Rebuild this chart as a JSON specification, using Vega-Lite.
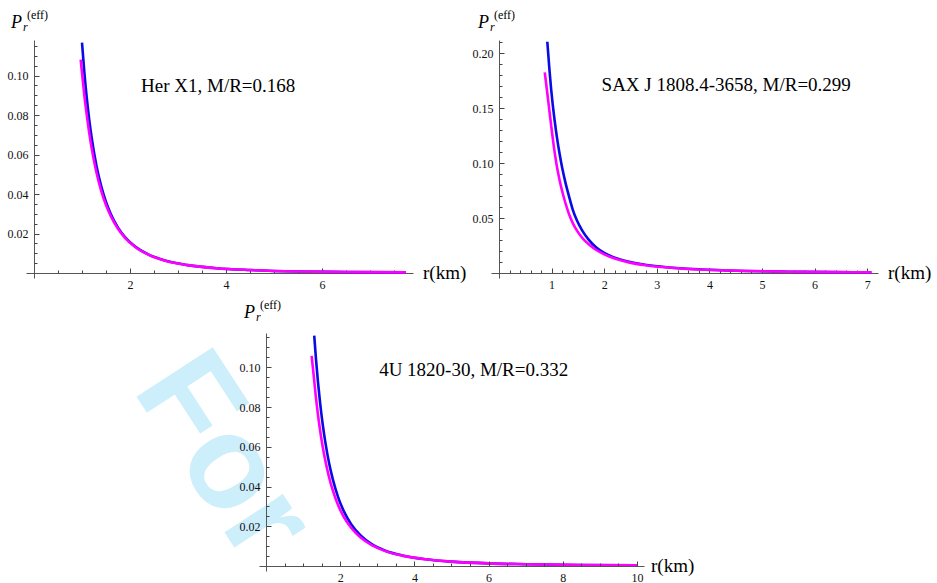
{
  "$schema": "https://vega.github.io/schema/vega-lite/v6.json",
  "background": "white",
  "padding": {"left": 7, "top": 9, "right": 0, "bottom": 0},
  "autosize": {"type": "pad"},
  "config": {
    "view": {"stroke": null},
    "axis": {
      "grid": false,
      "domainColor": "#555555",
      "domainWidth": 1,
      "tickColor": "#444444",
      "tickWidth": 1,
      "labelFont": "Liberation Serif",
      "labelFontSize": 12,
      "labelColor": "#111111",
      "labelOverlap": false,
      "labelFlush": false,
      "labelBound": false,
      "labelPadding": 11
    },
    "text": {"font": "Liberation Serif", "fill": "#000000"}
  },
  "bounds": "flush",
  "spacing": 293,
  "vconcat": [
    {
      "bounds": "flush",
      "spacing": 78,
      "hconcat": [
        {
          "width": 387,
          "height": 238,
          "resolve": {"axis": {"x": "independent", "y": "independent"}},
          "data": {"values": [
            {"r": 1.00, "P": 0.1167, "curve": "a"}, {"r": 1.05, "P": 0.1013, "curve": "a"},
            {"r": 1.10, "P": 0.0885, "curve": "a"}, {"r": 1.15, "P": 0.0778, "curve": "a"},
            {"r": 1.20, "P": 0.0688, "curve": "a"}, {"r": 1.30, "P": 0.0545, "curve": "a"},
            {"r": 1.40, "P": 0.0440, "curve": "a"}, {"r": 1.50, "P": 0.0360, "curve": "a"},
            {"r": 1.60, "P": 0.0299, "curve": "a"}, {"r": 1.75, "P": 0.0230, "curve": "a"},
            {"r": 1.90, "P": 0.0181, "curve": "a"}, {"r": 2.10, "P": 0.0136, "curve": "a"},
            {"r": 2.40, "P": 0.0092, "curve": "a"}, {"r": 2.75, "P": 0.0062, "curve": "a"},
            {"r": 3.20, "P": 0.0040, "curve": "a"}, {"r": 3.80, "P": 0.0024, "curve": "a"},
            {"r": 4.50, "P": 0.0015, "curve": "a"}, {"r": 5.50, "P": 0.0008, "curve": "a"},
            {"r": 6.50, "P": 0.0005, "curve": "a"}, {"r": 7.75, "P": 0.0003, "curve": "a"},
            {"r": 0.973, "P": 0.1080, "curve": "b"}, {"r": 1.00, "P": 0.1013, "curve": "b"},
            {"r": 1.05, "P": 0.0897, "curve": "b"}, {"r": 1.10, "P": 0.0798, "curve": "b"},
            {"r": 1.15, "P": 0.0710, "curve": "b"}, {"r": 1.20, "P": 0.0634, "curve": "b"},
            {"r": 1.30, "P": 0.0510, "curve": "b"}, {"r": 1.40, "P": 0.0416, "curve": "b"},
            {"r": 1.50, "P": 0.0344, "curve": "b"}, {"r": 1.60, "P": 0.0288, "curve": "b"},
            {"r": 1.75, "P": 0.0224, "curve": "b"}, {"r": 1.90, "P": 0.0177, "curve": "b"},
            {"r": 2.10, "P": 0.0133, "curve": "b"}, {"r": 2.40, "P": 0.0091, "curve": "b"},
            {"r": 2.75, "P": 0.0061, "curve": "b"}, {"r": 3.20, "P": 0.0040, "curve": "b"},
            {"r": 3.80, "P": 0.0024, "curve": "b"}, {"r": 4.50, "P": 0.0015, "curve": "b"},
            {"r": 5.50, "P": 0.0008, "curve": "b"}, {"r": 6.50, "P": 0.0005, "curve": "b"},
            {"r": 7.75, "P": 0.0003, "curve": "b"}
          ]},
          "layer": [
            {
              "transform": [{"filter": "datum.curve === 'a'"}],
              "mark": {"type": "line", "stroke": "#0a0ae6", "strokeWidth": 2.6, "interpolate": "monotone"},
              "encoding": {
                "x": {"field": "r", "type": "quantitative",
                  "scale": {"domain": [-0.1667, 7.896], "nice": false, "zero": false},
                  "axis": {"title": null, "orient": "bottom", "offset": -5, "values": [2, 4, 6], "tickSize": -5, "format": "d", "labelFont": "Liberation Serif"}},
                "y": {"field": "P", "type": "quantitative",
                  "scale": {"domain": [-0.00253, 0.1180], "nice": false, "zero": false},
                  "axis": {"title": null, "orient": "left", "offset": -8, "values": [0.02, 0.04, 0.06, 0.08, 0.1], "tickSize": -5, "format": ".2f", "labelFont": "Liberation Serif"}}
              }
            },
            {
              "transform": [{"filter": "datum.curve === 'b'"}],
              "mark": {"type": "line", "stroke": "#ff00ff", "strokeWidth": 2.6, "interpolate": "monotone"},
              "encoding": {
                "x": {"field": "r", "type": "quantitative",
                  "axis": {"title": null, "orient": "bottom", "offset": -5, "domain": false, "labels": false, "tickSize": -3,
                    "values": [0.5, 1, 1.5, 2.5, 3, 3.5, 4.5, 5, 5.5, 6.5, 7, 7.5]}},
                "y": {"field": "P", "type": "quantitative",
                  "axis": {"title": null, "orient": "left", "offset": -8, "domain": false, "labels": false, "tickSize": -3,
                    "values": [0.005, 0.01, 0.015, 0.025, 0.03, 0.035, 0.045, 0.05, 0.055, 0.065, 0.07, 0.075, 0.085, 0.09, 0.095, 0.105, 0.11, 0.115]}}
              }
            },
            {
              "data": {"values": [{"label": "Her X1, M/R=0.168"}]},
              "mark": {"type": "text", "fontSize": 19, "align": "left", "baseline": "alphabetic"},
              "encoding": {"x": {"datum": 2.23, "axis": null}, "y": {"datum": 0.0919, "axis": null}, "text": {"field": "label"}}
            },
            {
              "data": {"values": [{"label": "r(km)"}]},
              "mark": {"type": "text", "fontSize": 19, "align": "left", "baseline": "middle", "dx": 10},
              "encoding": {"x": {"datum": 7.896, "axis": null}, "y": {"datum": 0, "axis": null}, "text": {"field": "label"}}
            },
            {
              "data": {"values": [{"label": "P"}]},
              "mark": {"type": "text", "fontSize": 18, "fontStyle": "italic", "align": "left", "baseline": "alphabetic", "dx": -23, "dy": -12},
              "encoding": {"x": {"datum": 0, "axis": null}, "y": {"datum": 0.1180, "axis": null}, "text": {"field": "label"}}
            },
            {
              "data": {"values": [{"label": "r"}]},
              "mark": {"type": "text", "fontSize": 12, "fontStyle": "italic", "align": "left", "baseline": "alphabetic", "dx": -11, "dy": -9},
              "encoding": {"x": {"datum": 0, "axis": null}, "y": {"datum": 0.1180, "axis": null}, "text": {"field": "label"}}
            },
            {
              "data": {"values": [{"label": "(eff)"}]},
              "mark": {"type": "text", "fontSize": 12, "align": "left", "baseline": "alphabetic", "dx": -7, "dy": -21},
              "encoding": {"x": {"datum": 0, "axis": null}, "y": {"datum": 0.1180, "axis": null}, "text": {"field": "label"}}
            }
          ]
        },
        {
          "width": 387,
          "height": 238,
          "resolve": {"axis": {"x": "independent", "y": "independent"}},
          "data": {"values": [
            {"r": 0.918, "P": 0.2106, "curve": "a"}, {"r": 0.94, "P": 0.1970, "curve": "a"},
            {"r": 0.96, "P": 0.1845, "curve": "a"}, {"r": 0.99, "P": 0.1680, "curve": "a"},
            {"r": 1.02, "P": 0.1540, "curve": "a"}, {"r": 1.06, "P": 0.1380, "curve": "a"},
            {"r": 1.10, "P": 0.1240, "curve": "a"}, {"r": 1.15, "P": 0.1090, "curve": "a"},
            {"r": 1.20, "P": 0.0960, "curve": "a"}, {"r": 1.26, "P": 0.0830, "curve": "a"},
            {"r": 1.33, "P": 0.0700, "curve": "a"}, {"r": 1.40, "P": 0.0580, "curve": "a"},
            {"r": 1.48, "P": 0.0480, "curve": "a"}, {"r": 1.58, "P": 0.0388, "curve": "a"},
            {"r": 1.70, "P": 0.0306, "curve": "a"}, {"r": 1.85, "P": 0.0232, "curve": "a"},
            {"r": 2.00, "P": 0.0183, "curve": "a"}, {"r": 2.20, "P": 0.0140, "curve": "a"},
            {"r": 2.45, "P": 0.0105, "curve": "a"}, {"r": 2.75, "P": 0.0077, "curve": "a"},
            {"r": 3.10, "P": 0.0057, "curve": "a"}, {"r": 3.50, "P": 0.0041, "curve": "a"},
            {"r": 4.00, "P": 0.0029, "curve": "a"}, {"r": 4.70, "P": 0.0018, "curve": "a"},
            {"r": 5.50, "P": 0.0012, "curve": "a"}, {"r": 6.30, "P": 0.0008, "curve": "a"},
            {"r": 7.08, "P": 0.0006, "curve": "a"},
            {"r": 0.87, "P": 0.1827, "curve": "b"}, {"r": 0.90, "P": 0.1710, "curve": "b"},
            {"r": 0.93, "P": 0.1590, "curve": "b"}, {"r": 0.96, "P": 0.1470, "curve": "b"},
            {"r": 1.00, "P": 0.1310, "curve": "b"}, {"r": 1.04, "P": 0.1160, "curve": "b"},
            {"r": 1.09, "P": 0.1000, "curve": "b"}, {"r": 1.15, "P": 0.0850, "curve": "b"},
            {"r": 1.22, "P": 0.0710, "curve": "b"}, {"r": 1.30, "P": 0.0580, "curve": "b"},
            {"r": 1.36, "P": 0.0500, "curve": "b"}, {"r": 1.45, "P": 0.0410, "curve": "b"},
            {"r": 1.55, "P": 0.0340, "curve": "b"}, {"r": 1.65, "P": 0.0285, "curve": "b"},
            {"r": 1.80, "P": 0.0226, "curve": "b"}, {"r": 2.00, "P": 0.0170, "curve": "b"},
            {"r": 2.20, "P": 0.0132, "curve": "b"}, {"r": 2.45, "P": 0.0099, "curve": "b"},
            {"r": 2.75, "P": 0.0073, "curve": "b"}, {"r": 3.10, "P": 0.0054, "curve": "b"},
            {"r": 3.50, "P": 0.0039, "curve": "b"}, {"r": 4.00, "P": 0.0028, "curve": "b"},
            {"r": 4.70, "P": 0.0018, "curve": "b"}, {"r": 5.50, "P": 0.0012, "curve": "b"},
            {"r": 6.30, "P": 0.0008, "curve": "b"}, {"r": 7.08, "P": 0.0006, "curve": "b"}
          ]},
          "layer": [
            {
              "transform": [{"filter": "datum.curve === 'a'"}],
              "mark": {"type": "line", "stroke": "#0a0ae6", "strokeWidth": 2.6, "interpolate": "monotone"},
              "encoding": {
                "x": {"field": "r", "type": "quantitative",
                  "scale": {"domain": [-0.1521, 7.205], "nice": false, "zero": false},
                  "axis": {"title": null, "orient": "bottom", "offset": -5, "values": [1, 2, 3, 4, 5, 6, 7], "tickSize": -5, "format": "d", "labelFont": "Liberation Serif"}},
                "y": {"field": "P", "type": "quantitative",
                  "scale": {"domain": [-0.00455, 0.2122], "nice": false, "zero": false},
                  "axis": {"title": null, "orient": "left", "offset": -8, "values": [0.05, 0.1, 0.15, 0.2], "tickSize": -5, "format": ".2f", "labelFont": "Liberation Serif"}}
              }
            },
            {
              "transform": [{"filter": "datum.curve === 'b'"}],
              "mark": {"type": "line", "stroke": "#ff00ff", "strokeWidth": 2.6, "interpolate": "monotone"},
              "encoding": {
                "x": {"field": "r", "type": "quantitative",
                  "axis": {"title": null, "orient": "bottom", "offset": -5, "domain": false, "labels": false, "tickSize": -3,
                    "values": [0.2, 0.4, 0.6, 0.8, 1.2, 1.4, 1.6, 1.8, 2.2, 2.4, 2.6, 2.8, 3.2, 3.4, 3.6, 3.8, 4.2, 4.4, 4.6, 4.8, 5.2, 5.4, 5.6, 5.8, 6.2, 6.4, 6.6, 6.8]}},
                "y": {"field": "P", "type": "quantitative",
                  "axis": {"title": null, "orient": "left", "offset": -8, "domain": false, "labels": false, "tickSize": -3,
                    "values": [0.01, 0.02, 0.03, 0.04, 0.06, 0.07, 0.08, 0.09, 0.11, 0.12, 0.13, 0.14, 0.16, 0.17, 0.18, 0.19, 0.21]}}
              }
            },
            {
              "data": {"values": [{"label": "SAX J 1808.4-3658, M/R=0.299"}]},
              "mark": {"type": "text", "fontSize": 19, "align": "left", "baseline": "alphabetic"},
              "encoding": {"x": {"datum": 1.95, "axis": null}, "y": {"datum": 0.166, "axis": null}, "text": {"field": "label"}}
            },
            {
              "data": {"values": [{"label": "r(km)"}]},
              "mark": {"type": "text", "fontSize": 19, "align": "left", "baseline": "middle", "dx": 10},
              "encoding": {"x": {"datum": 7.205, "axis": null}, "y": {"datum": 0, "axis": null}, "text": {"field": "label"}}
            },
            {
              "data": {"values": [{"label": "P"}]},
              "mark": {"type": "text", "fontSize": 18, "fontStyle": "italic", "align": "left", "baseline": "alphabetic", "dx": -21, "dy": -12},
              "encoding": {"x": {"datum": 0, "axis": null}, "y": {"datum": 0.2122, "axis": null}, "text": {"field": "label"}}
            },
            {
              "data": {"values": [{"label": "r"}]},
              "mark": {"type": "text", "fontSize": 12, "fontStyle": "italic", "align": "left", "baseline": "alphabetic", "dx": -9, "dy": -9},
              "encoding": {"x": {"datum": 0, "axis": null}, "y": {"datum": 0.2122, "axis": null}, "text": {"field": "label"}}
            },
            {
              "data": {"values": [{"label": "(eff)"}]},
              "mark": {"type": "text", "fontSize": 12, "align": "left", "baseline": "alphabetic", "dx": -5, "dy": -21},
              "encoding": {"x": {"datum": 0, "axis": null}, "y": {"datum": 0.2122, "axis": null}, "text": {"field": "label"}}
            }
          ]
        }
      ]
    },
    {
      "bounds": "flush",
      "spacing": 0,
      "hconcat": [
        {
          "width": 233,
          "height": 238,
          "data": {"values": []},
          "mark": "point"
        },
        {
          "width": 385,
          "height": 238,
          "resolve": {"axis": {"x": "independent", "y": "independent"}},
          "data": {"values": [
            {"r": 1.30, "P": 0.1159, "curve": "a"}, {"r": 1.35, "P": 0.1035, "curve": "a"},
            {"r": 1.40, "P": 0.0928, "curve": "a"}, {"r": 1.46, "P": 0.0818, "curve": "a"},
            {"r": 1.53, "P": 0.0711, "curve": "a"}, {"r": 1.60, "P": 0.0622, "curve": "a"},
            {"r": 1.70, "P": 0.0518, "curve": "a"}, {"r": 1.80, "P": 0.0437, "curve": "a"},
            {"r": 1.95, "P": 0.0343, "curve": "a"}, {"r": 2.10, "P": 0.0275, "curve": "a"},
            {"r": 2.30, "P": 0.0209, "curve": "a"}, {"r": 2.55, "P": 0.0154, "curve": "a"},
            {"r": 2.85, "P": 0.0110, "curve": "a"}, {"r": 3.20, "P": 0.0078, "curve": "a"},
            {"r": 3.70, "P": 0.0052, "curve": "a"}, {"r": 4.30, "P": 0.0034, "curve": "a"},
            {"r": 5.00, "P": 0.0022, "curve": "a"}, {"r": 6.00, "P": 0.0013, "curve": "a"},
            {"r": 7.00, "P": 0.0009, "curve": "a"}, {"r": 8.50, "P": 0.0005, "curve": "a"},
            {"r": 10.0, "P": 0.0003, "curve": "a"},
            {"r": 1.23, "P": 0.1058, "curve": "b"}, {"r": 1.28, "P": 0.0969, "curve": "b"},
            {"r": 1.34, "P": 0.0858, "curve": "b"}, {"r": 1.40, "P": 0.0762, "curve": "b"},
            {"r": 1.48, "P": 0.0655, "curve": "b"}, {"r": 1.57, "P": 0.0557, "curve": "b"},
            {"r": 1.68, "P": 0.0462, "curve": "b"}, {"r": 1.80, "P": 0.0380, "curve": "b"},
            {"r": 1.95, "P": 0.0303, "curve": "b"}, {"r": 2.10, "P": 0.0246, "curve": "b"},
            {"r": 2.30, "P": 0.0191, "curve": "b"}, {"r": 2.55, "P": 0.0143, "curve": "b"},
            {"r": 2.85, "P": 0.0105, "curve": "b"}, {"r": 3.20, "P": 0.0076, "curve": "b"},
            {"r": 3.70, "P": 0.0051, "curve": "b"}, {"r": 4.30, "P": 0.0034, "curve": "b"},
            {"r": 5.00, "P": 0.0022, "curve": "b"}, {"r": 6.00, "P": 0.0013, "curve": "b"},
            {"r": 7.00, "P": 0.0009, "curve": "b"}, {"r": 8.50, "P": 0.0005, "curve": "b"},
            {"r": 10.0, "P": 0.0003, "curve": "b"}
          ]},
          "layer": [
            {
              "data": {"values": [{"label": "For"}]},
              "mark": {"type": "text", "font": "Liberation Sans", "fontWeight": "bold", "fontSize": 132, "angle": 57, "align": "left", "baseline": "alphabetic", "fill": "#cdeefb"},
              "encoding": {"x": {"datum": -3.62, "axis": null}, "y": {"datum": 0.089, "axis": null}, "text": {"field": "label"}}
            },
            {
              "transform": [{"filter": "datum.curve === 'a'"}],
              "mark": {"type": "line", "stroke": "#0a0ae6", "strokeWidth": 2.6, "interpolate": "monotone"},
              "encoding": {
                "x": {"field": "r", "type": "quantitative",
                  "scale": {"domain": [-0.1887, 10.189], "nice": false, "zero": false},
                  "axis": {"title": null, "orient": "bottom", "offset": -5, "zindex": 2, "values": [2, 4, 6, 8, 10], "tickSize": -5, "format": "d", "labelFont": "Liberation Serif"}},
                "y": {"field": "P", "type": "quantitative",
                  "scale": {"domain": [-0.00252, 0.11726], "nice": false, "zero": false},
                  "axis": {"title": null, "orient": "left", "offset": -7, "zindex": 2, "values": [0.02, 0.04, 0.06, 0.08, 0.1], "tickSize": -5, "format": ".2f", "labelFont": "Liberation Serif"}}
              }
            },
            {
              "transform": [{"filter": "datum.curve === 'b'"}],
              "mark": {"type": "line", "stroke": "#ff00ff", "strokeWidth": 2.6, "interpolate": "monotone"},
              "encoding": {
                "x": {"field": "r", "type": "quantitative",
                  "axis": {"title": null, "orient": "bottom", "offset": -5, "zindex": 2, "domain": false, "labels": false, "tickSize": -3,
                    "values": [0.5, 1, 1.5, 2.5, 3, 3.5, 4.5, 5, 5.5, 6.5, 7, 7.5, 8.5, 9, 9.5]}},
                "y": {"field": "P", "type": "quantitative",
                  "axis": {"title": null, "orient": "left", "offset": -7, "zindex": 2, "domain": false, "labels": false, "tickSize": -3,
                    "values": [0.005, 0.01, 0.015, 0.025, 0.03, 0.035, 0.045, 0.05, 0.055, 0.065, 0.07, 0.075, 0.085, 0.09, 0.095, 0.105, 0.11, 0.115]}}
              }
            },
            {
              "data": {"values": [{"label": "4U 1820-30, M/R=0.332"}]},
              "mark": {"type": "text", "fontSize": 19, "align": "left", "baseline": "alphabetic"},
              "encoding": {"x": {"datum": 3.05, "axis": null}, "y": {"datum": 0.0958, "axis": null}, "text": {"field": "label"}}
            },
            {
              "data": {"values": [{"label": "r(km)"}]},
              "mark": {"type": "text", "fontSize": 19, "align": "left", "baseline": "middle", "dx": 7},
              "encoding": {"x": {"datum": 10.189, "axis": null}, "y": {"datum": 0, "axis": null}, "text": {"field": "label"}}
            },
            {
              "data": {"values": [{"label": "P"}]},
              "mark": {"type": "text", "fontSize": 18, "fontStyle": "italic", "align": "left", "baseline": "alphabetic", "dx": -22, "dy": -15},
              "encoding": {"x": {"datum": 0, "axis": null}, "y": {"datum": 0.11726, "axis": null}, "text": {"field": "label"}}
            },
            {
              "data": {"values": [{"label": "r"}]},
              "mark": {"type": "text", "fontSize": 12, "fontStyle": "italic", "align": "left", "baseline": "alphabetic", "dx": -10, "dy": -12},
              "encoding": {"x": {"datum": 0, "axis": null}, "y": {"datum": 0.11726, "axis": null}, "text": {"field": "label"}}
            },
            {
              "data": {"values": [{"label": "(eff)"}]},
              "mark": {"type": "text", "fontSize": 12, "align": "left", "baseline": "alphabetic", "dx": -6, "dy": -24},
              "encoding": {"x": {"datum": 0, "axis": null}, "y": {"datum": 0.11726, "axis": null}, "text": {"field": "label"}}
            }
          ]
        }
      ]
    }
  ]
}
